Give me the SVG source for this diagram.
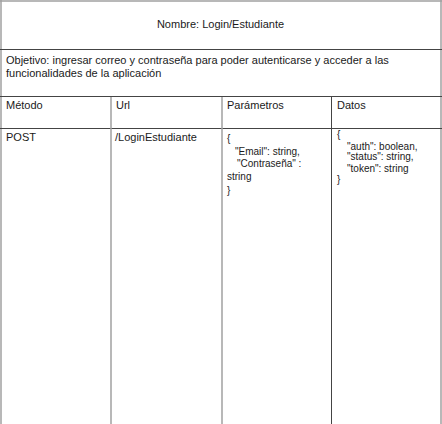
<svg xmlns="http://www.w3.org/2000/svg" width="442" height="424" viewBox="0 0 442 424">
<style>
.t{font-family:"Liberation Sans",Arial,sans-serif;font-size:11px;fill:#1a1a1a}
.j{font-family:"Liberation Sans",Arial,sans-serif;font-size:10px;fill:#1a1a1a}
.g{stroke:#a0a0a0;stroke-width:1.5;fill:none}
.d{stroke:#444;stroke-width:1;fill:none}
</style>
<rect width="442" height="424" fill="#fff"/>
<g id="grid">
<line class="g" x1="0" y1="1" x2="442" y2="1"/>
<line class="g" x1="1" y1="0" x2="1" y2="424"/>
<line class="g" x1="441" y1="0" x2="441" y2="424"/>
<line class="d" x1="0" y1="49.5" x2="442" y2="49.5"/>
<line class="d" x1="0" y1="96.5" x2="442" y2="96.5"/>
<line class="d" x1="0" y1="128.5" x2="442" y2="128.5"/>
<line class="g" x1="111" y1="97" x2="111" y2="424"/>
<line class="g" x1="222" y1="97" x2="222" y2="424"/>
<line class="d" x1="331.5" y1="97" x2="331.5" y2="424"/>
</g>
<g id="title"><text class="t" x="220.5" y="28" text-anchor="middle">Nombre: Login/Estudiante</text></g>
<g id="objetivo">
<text class="t" x="6" y="64">Objetivo: ingresar correo y contraseña para poder autenticarse y acceder a las</text>
<text class="t" x="6" y="76.5">funcionalidades de la aplicación</text>
</g>
<g id="headers">
<text class="t" x="6" y="109">Método</text>
<text class="t" x="116" y="109">Url</text>
<text class="t" x="227" y="109">Parámetros</text>
<text class="t" x="337" y="109">Datos</text>
</g>
<g id="row">
<text class="t" x="6" y="141">POST</text>
<text class="t" x="115" y="141">/LoginEstudiante</text>
</g>
<g id="parametros">
<text class="j" x="227" y="142">{</text>
<text class="j" x="235" y="155">"Email": string,</text>
<text class="j" x="237" y="167">"Contraseña" :</text>
<text class="j" x="227" y="180">string</text>
<text class="j" x="227" y="194">}</text>
</g>
<g id="datos">
<text class="j" x="337" y="138">{</text>
<text class="j" x="347" y="150">"auth": boolean,</text>
<text class="j" x="347" y="160">"status": string,</text>
<text class="j" x="347" y="172">"token": string</text>
<text class="j" x="337" y="183">}</text>
</g>
</svg>
